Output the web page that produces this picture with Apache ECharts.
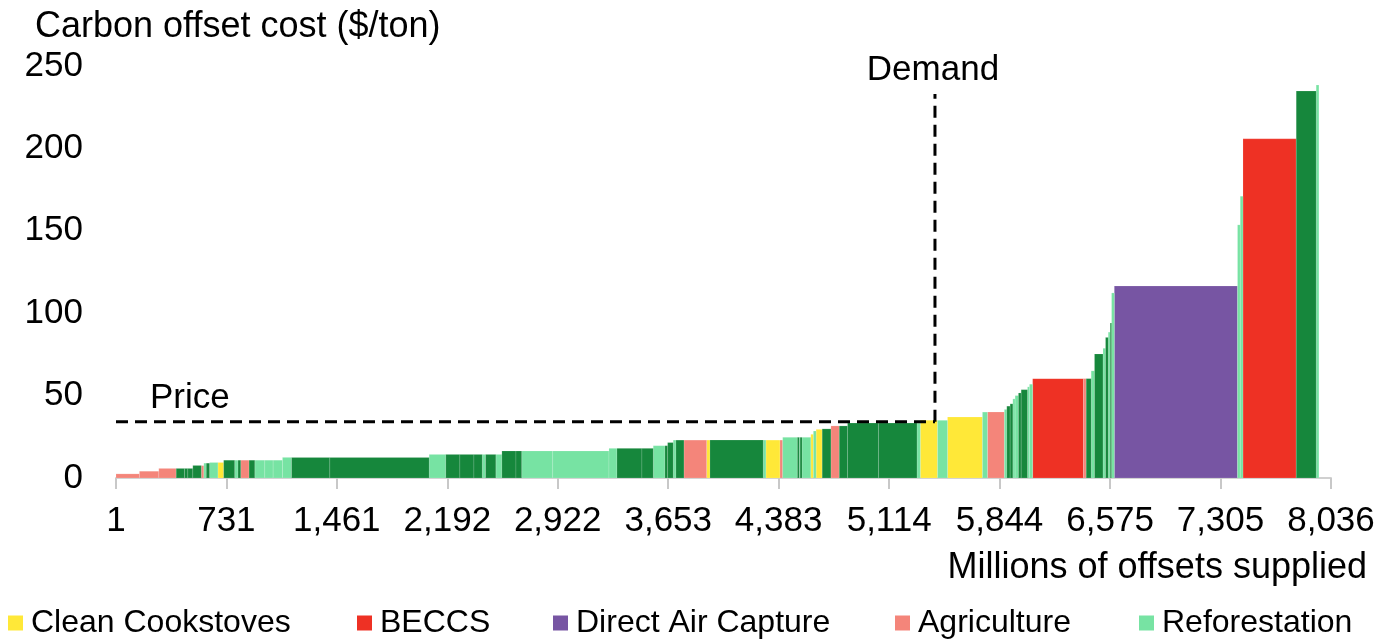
<!DOCTYPE html>
<html>
<head>
<meta charset="utf-8">
<script src="https://cdn.jsdelivr.net/npm/echarts@6/dist/echarts.min.js"></script>
<style>
html,body{margin:0;padding:0;background:#fff;}
#chart{width:1380px;height:640px;}
</style>
</head>
<body>
<div id="chart"></div>
<script>
// ---- data ----
const categories = ['Clean Cookstoves', 'BECCS', 'Direct Air Capture', 'Agriculture', 'Reforestation', 'Avoided Deforestation'];
// category of each supply step (index into categories)
const segCategory = [
  3,3,3,5,5,5,5,3,4,5,
  4,0,5,4,5,3,5,4,4,4,
  4,5,5,4,5,5,5,4,5,4,
  5,5,4,4,4,5,5,4,5,5,
  4,5,3,0,5,4,0,3,4,5,
  4,5,4,0,4,0,5,3,5,5,
  5,4,0,4,0,4,3,4,5,5,
  4,4,5,5,4,4,1,3,5,4,
  5,4,5,4,5,4,2,4,4,1,
  5,4
];
// width of each step (millions of offsets)
const segSupply = [
  155,128,115,55,22,33,56,17,16,22,
  55,38,73,22,18,55,38,66,55,62,
  60,253,657,110,93,93,55,22,68,40,
  93,38,205,372,53,165,75,77,18,37,
  18,53,150,22,352,18,93,18,97,13,
  5,13,58,17,18,40,58,55,55,205,
  254,22,114,66,231,33,112,16,22,18,
  15,22,18,42,13,21,336,18,33,22,
  56,17,18,13,9,18,815,18,18,352,
  132,18
];
// cost of each step ($/ton)
const segCost = [
  2.5,4.1,5.8,5.8,5.8,5.8,7.6,7.5,9,9,
  9.4,9.4,10.8,10.8,10.8,10.8,10.8,10.8,10.8,10.8,
  12.5,12.5,12.5,14.3,14.3,14.3,14.3,14.3,14.3,14.3,
  16.4,16.4,16.4,16.4,18,18,18,19.6,19.6,21.5,
  23,23,23,23,23,23,23,23,24.7,24.7,
  24.7,24.7,24.7,26.5,28.5,29.5,29.8,31.6,31.6,33.3,
  33.3,33.3,35,35,37,40,40,41.6,43.6,45,
  48,50,51.6,53.6,55.3,56.9,60.3,60.3,60.3,65,
  75.3,78.7,85.3,88.5,94,112.3,116.5,153.6,171,205.8,
  234.8,238.4
];
const xTickValues = [1, 731, 1461, 2192, 2922, 3653, 4383, 5114, 5844, 6575, 7305, 8036];
const xTickLabels = ['1', '731', '1,461', '2,192', '2,922', '3,653', '4,383', '5,114', '5,844', '6,575', '7,305', '8,036'];
const yTickValues = [0, 50, 100, 150, 200, 250];
const priceValue = 34.2;      // $/ton
const demandValue = 5417;     // millions of offsets
const demandTop = 233;        // top of demand marker line ($/ton)
const xStart = 1;

// ---- styles ----
const FONT = '"Liberation Sans", Arial, sans-serif';
const catColors = ['#FFE838', '#EE3124', '#7755A3', '#F4857A', '#77E3A3', '#16873C'];

// build step table [start, end, cost]
const seriesData = categories.map(() => []);
let cum = xStart;
const nSeg = Math.min(segCategory.length, segSupply.length, segCost.length);
for (let i = 0; i < nSeg; i++) {
  const s = cum, e = cum + segSupply[i];
  seriesData[segCategory[i]].push([s, e, segCost[i]]);
  cum = e;
}

function renderStep(params, api) {
  const p0 = api.coord([api.value(0), api.value(2)]);
  const p1 = api.coord([api.value(1), 0]);
  return {
    type: 'rect',
    shape: { x: p0[0], y: p0[1], width: p1[0] - p0[0], height: p1[1] - p0[1] },
    style: { fill: api.visual('color'), stroke: 'rgba(255,255,255,0.28)', lineWidth: 0.5 }
  };
}

function renderAnnot(params, api) {
  const a = api.coord([xStart, priceValue]);
  const b = api.coord([demandValue, priceValue]);
  const c = api.coord([demandValue, demandTop]);
  const dash = { stroke: '#000', lineWidth: 3, lineDash: [12, 7] };
  const priceLabelPos = api.coord([226, priceValue]);
  return {
    type: 'group',
    children: [
      { type: 'line', shape: { x1: a[0], y1: a[1], x2: b[0], y2: b[1] }, style: dash },
      { type: 'line', shape: { x1: b[0], y1: b[1], x2: c[0], y2: c[1] }, style: dash },
      { type: 'text', x: priceLabelPos[0], y: priceLabelPos[1] - 6,
        style: { text: 'Price', fill: '#000', font: '35px ' + FONT, align: 'left', verticalAlign: 'bottom' } },
      { type: 'text', x: c[0] - 2, y: c[1] - 6,
        style: { text: 'Demand', fill: '#000', font: '35px ' + FONT, align: 'center', verticalAlign: 'bottom' } }
    ]
  };
}

const series = categories.map((name, i) => ({
  name: name,
  type: 'custom',
  renderItem: renderStep,
  encode: { x: [0, 1], y: 2 },
  itemStyle: { color: catColors[i] },
  data: seriesData[i],
  z: 2,
  silent: true
}));
series.push({
  name: 'annotations',
  type: 'custom',
  renderItem: renderAnnot,
  data: [[demandValue, priceValue]],
  encode: { x: 0, y: 1 },
  z: 10,
  silent: true,
  clip: false
});

const legendLeft = [8, 357, 553, 895, 1139];
const legends = categories.slice(0, 5).map((c, i) => ({
  data: [c],
  left: legendLeft[i],
  top: 607,
  padding: 0,
  icon: 'rect',
  itemWidth: 15,
  itemHeight: 15,
  selectedMode: false,
  textStyle: { fontSize: 32, fontFamily: FONT, color: '#000', padding: [0, 0, 0, 3] }
}));

const chart = echarts.init(document.getElementById('chart'), null, { renderer: 'canvas' });
chart.setOption({
  animation: false,
  backgroundColor: '#fff',
  title: [
    { text: 'Carbon offset cost ($/ton)', left: 35, top: 9, padding: 0,
      textStyle: { fontSize: 36, fontWeight: 'normal', fontFamily: FONT, color: '#000' } },
    { text: 'Millions of offsets supplied', right: 13, top: 550, padding: 0,
      textStyle: { fontSize: 36, fontWeight: 'normal', fontFamily: FONT, color: '#000' } }
  ],
  legend: legends,
  grid: { left: 116, right: 49, top: 66, bottom: 162, containLabel: false },
  xAxis: {
    type: 'value',
    min: 1,
    max: 8036,
    splitLine: { show: false },
    axisLine: { show: true, lineStyle: { color: '#d0d0d0', width: 2 } },
    axisTick: { show: true, length: 11, lineStyle: { color: '#c8c8c8', width: 2 }, customValues: xTickValues },
    axisLabel: {
      customValues: xTickValues,
      formatter: v => { const k = xTickValues.indexOf(v); return k >= 0 ? xTickLabels[k] : ''; },
      fontSize: 35, fontFamily: FONT, color: '#000', margin: 26
    }
  },
  yAxis: {
    type: 'value',
    min: 0,
    max: 250,
    interval: 50,
    splitLine: { show: false },
    axisLine: { show: false },
    axisTick: { show: false },
    axisLabel: { fontSize: 35, fontFamily: FONT, color: '#000', margin: 33,
      formatter: v => yTickValues.indexOf(v) >= 0 ? String(v) : '' }
  },
  series: series
});
</script>
</body>
</html>
